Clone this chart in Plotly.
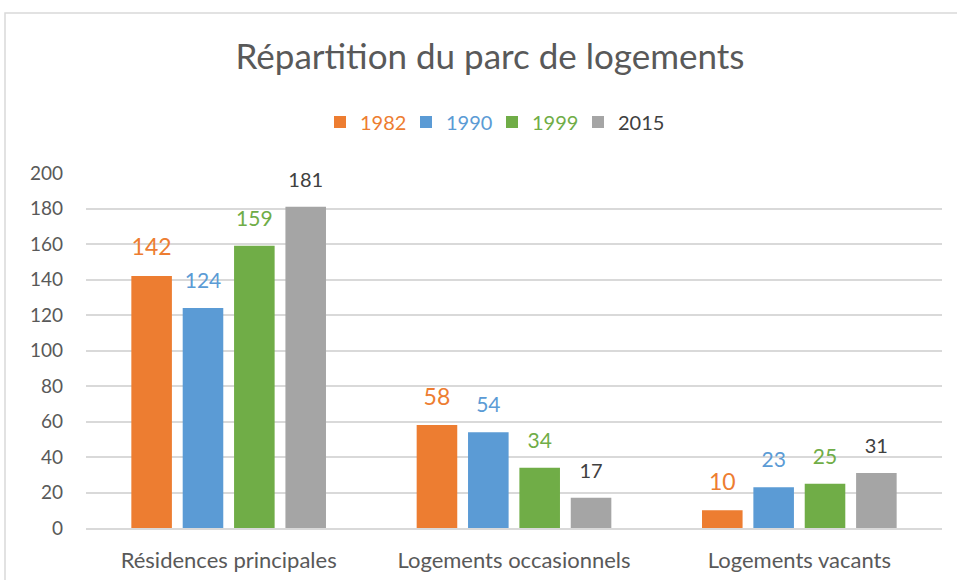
import plotly.graph_objects as go

categories = ["Résidences principales", "Logements occasionnels", "Logements vacants"]
years = ["1982", "1990", "1999", "2015"]
v1982 = [142, 58, 10]
v1990 = [124, 54, 23]
v1999 = [159, 34, 25]
v2015 = [181, 17, 31]
series_values = [v1982, v1990, v1999, v2015]

bar_colors = ["#ED7D31", "#5B9BD5", "#70AD47", "#A5A5A5"]
label_colors = ["#ED7D31", "#5B9BD5", "#70AD47", "#404040"]
label_sizes = [23, 21, 21, 20]

FONT = "Lato"
L, R, T, B = 86, 15, 173, 52
W, H = 957, 580
pw, ph = W - L - R, H - T - B

fig = go.Figure()
for i, (yr, vals) in enumerate(zip(years, series_values)):
    fig.add_trace(go.Bar(
        x=categories, y=vals,
        name=f"<span style='color:{label_colors[i]}'>{yr}</span>",
        marker=dict(color=bar_colors[i], line=dict(width=0)),
        offsetgroup=str(i), legendgroup=yr, hoverinfo="skip",
    ))
for i, (yr, vals) in enumerate(zip(years, series_values)):
    fig.add_trace(go.Scatter(
        x=categories, y=vals, mode="markers+text",
        text=[str(v) for v in vals], textposition="top center",
        textfont=dict(family=FONT, size=label_sizes[i], color=label_colors[i]),
        marker=dict(size=22, opacity=0, color=bar_colors[i]),
        offsetgroup=str(i), legendgroup=yr, showlegend=False,
        hoverinfo="skip", cliponaxis=False,
    ))

fig.update_layout(
    width=W, height=H,
    margin=dict(l=L, r=R, t=T, b=B, pad=0, autoexpand=False),
    paper_bgcolor="white", plot_bgcolor="white",
    barmode="group", bargap=0.28, bargroupgap=0.21,
    scattermode="group", scattergap=0.28,
    font=dict(family=FONT, color="#595959", size=19),
    title=dict(text="Répartition du parc de logements",
               x=490 / W, xanchor="center",
               y=1 - 57 / H, yanchor="middle", yref="container",
               font=dict(family=FONT, size=35, color="#595959")),
    legend=dict(orientation="h", x=(492 - L) / pw, xanchor="center",
                y=(H - B - 122) / ph, yanchor="middle",
                font=dict(family=FONT, size=20, color="#595959"),
                itemwidth=30, entrywidth=41, entrywidthmode="pixels",
                bgcolor="rgba(0,0,0,0)"),
    showlegend=True,
    xaxis=dict(showline=True, linecolor="#D9D9D9", linewidth=1.5,
               ticks="", showgrid=False, ticklabelstandoff=12,
               automargin=False,
               tickfont=dict(family=FONT, size=22, color="#595959")),
    yaxis=dict(range=[0, 200], dtick=20, showgrid=True, gridcolor="#D9D9D9",
               gridwidth=1.5, zeroline=False, showline=False, ticks="",
               ticklabelstandoff=22, automargin=False,
               tickfont=dict(family=FONT, size=19, color="#595959")),
    shapes=[dict(type="rect", xref="paper", yref="paper",
                 x0=(5 - L) / pw, x1=(1020 - L) / pw,
                 y0=-0.3, y1=(H - B - 13) / ph,
                 line=dict(color="#D9D9D9", width=1.5), layer="below")],
)

fig.write_html("out.html", config={"displayModeBar": False})

with open("out.html", "r", encoding="utf-8") as f:
    html = f.read()
html = html.replace("<head>", "<head><style>html,body{margin:0;padding:0;overflow:hidden;}</style>", 1)
with open("out.html", "w", encoding="utf-8") as f:
    f.write(html)
